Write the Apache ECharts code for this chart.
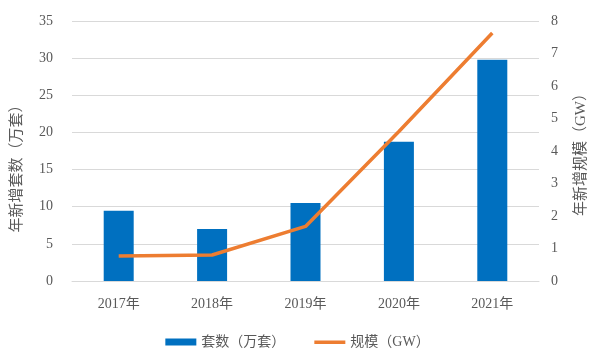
<!DOCTYPE html>
<html><head><meta charset="utf-8">
<script src="https://cdn.jsdelivr.net/npm/echarts@6/dist/echarts.min.js"></script>
<style>html,body{margin:0;padding:0;background:#fff}#c{width:595px;height:355px}</style>
</head><body><div id="c"></div>
<script>
const categories = ['2017年','2018年','2019年','2020年','2021年'];
const setsValues = [9.45, 7.0, 10.5, 18.75, 29.8];
const scaleValues = [0.77, 0.80, 1.68, 4.6, 7.63];
const leftTicks = [0, 35, 5];
const rightTicks = [0, 8, 1];
const seriesNames = ['套数（万套）', '规模（GW）'];
const axisNames = ['年新增套数（万套）', '年新增规模（GW）'];

const txt = '#595959';
const font = '"Liberation Serif", "Noto Sans CJK SC", serif';
const chart = echarts.init(document.getElementById('c'), null, {renderer: 'canvas'});
chart.setOption({
  animation: false,
  backgroundColor: '#fff',
  grid: {left: 72, right: 56, top: 21, bottom: 74, containLabel: false, outerBoundsMode: 'none'},
  legend: {
    bottom: 1, left: 'center', itemGap: 29, itemWidth: 31, itemHeight: 7,
    textStyle: {color: txt, fontSize: 14, fontFamily: font},
    data: [
      {name: seriesNames[0], icon: 'rect'},
      {name: seriesNames[1], icon: 'path://M0,0 L0.01,0 Z M0,2 L31,2 L31,5.5 L0,5.5 Z M0,7 L0.01,7 Z',
       itemStyle: {color: '#ED7D31', borderWidth: 0}}
    ]
  },
  xAxis: {
    type: 'category', data: categories,
    axisLine: {lineStyle: {color: '#D9D9D9'}},
    axisTick: {show: false},
    axisLabel: {color: txt, fontSize: 14, fontFamily: font, margin: 16}
  },
  yAxis: [{
    type: 'value', min: leftTicks[0], max: leftTicks[1], interval: leftTicks[2],
    name: axisNames[0], nameLocation: 'middle', nameGap: 47, nameMoveOverlap: false,
    nameTextStyle: {color: txt, fontSize: 15, fontFamily: font, padding: [0, 28, 0, 0]},
    axisLine: {show: false}, axisTick: {show: false},
    axisLabel: {color: txt, fontSize: 14, fontFamily: font, margin: 19},
    splitLine: {lineStyle: {color: '#D9D9D9'}}
  }, {
    type: 'value', min: rightTicks[0], max: rightTicks[1], interval: rightTicks[2],
    name: axisNames[1], nameLocation: 'middle', nameGap: 35, nameMoveOverlap: false,
    nameTextStyle: {color: txt, fontSize: 15, fontFamily: font},
    axisLine: {show: false}, axisTick: {show: false},
    axisLabel: {color: txt, fontSize: 14, fontFamily: font, margin: 12},
    splitLine: {show: false}
  }],
  series: [{
    name: seriesNames[0], type: 'bar', data: setsValues, yAxisIndex: 0,
    barWidth: 30, itemStyle: {color: '#0070C0'}
  }, {
    name: seriesNames[1], type: 'line', data: scaleValues, yAxisIndex: 1,
    symbol: 'none', lineStyle: {color: '#ED7D31', width: 3.5},
    itemStyle: {color: '#ED7D31'}
  }]
});
</script></body></html>
